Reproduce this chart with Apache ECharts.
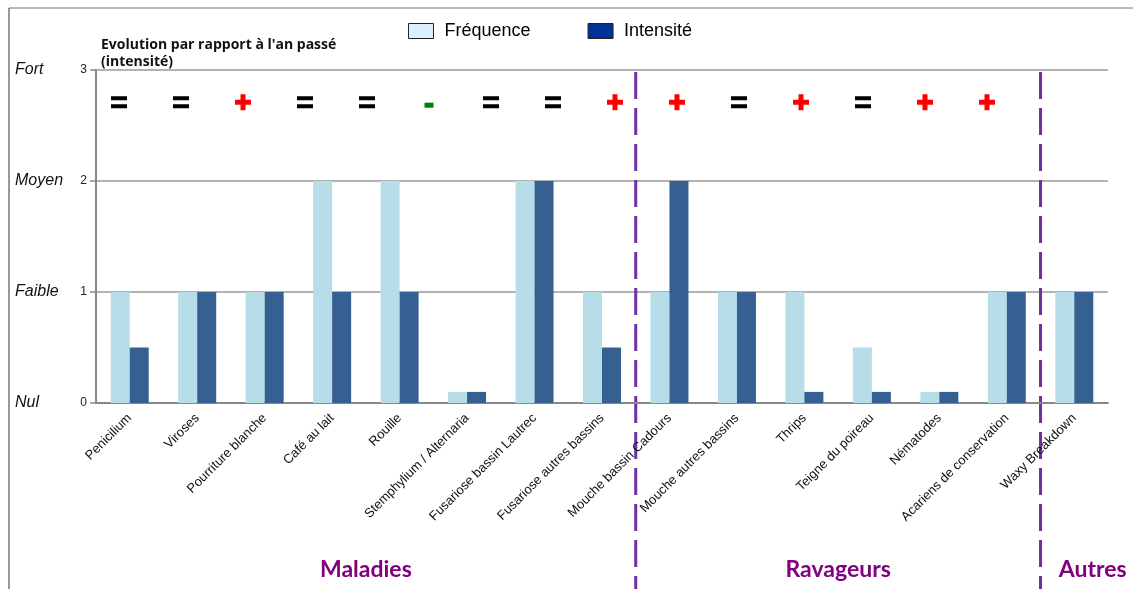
<!DOCTYPE html>
<html>
<head>
<meta charset="utf-8">
<script src="https://cdn.jsdelivr.net/npm/echarts@6/dist/echarts.min.js"></script>
<style>
  html, body { margin: 0; padding: 0; background: #fff; }
  #chart { width: 1133px; height: 589px; }
</style>
</head>
<body>
<div id="chart"></div>
<script>
// Pests and diseases: frequency and intensity levels
const categories = [
  'Penicilium', 'Viroses', 'Pourriture blanche', 'Café au lait', 'Rouille',
  'Stemphylium / Alternaria', 'Fusariose bassin Lautrec', 'Fusariose autres bassins',
  'Mouche bassin Cadours', 'Mouche autres bassins', 'Thrips', 'Teigne du poireau',
  'Nématodes', 'Acariens de conservation', 'Waxy Breakdown'
];
const frequence = [1, 1, 1, 2, 2, 0.1, 2, 1, 1, 1, 1, 0.5, 0.1, 1, 1];
const intensite = [0.5, 1, 1, 1, 1, 0.1, 2, 0.5, 2, 1, 0.1, 0.1, 0.1, 1, 1];
// Change in intensity compared with last year
const evolution = ['=', '=', '+', '=', '=', '-', '=', '=', '+', '+', '=', '+', '=', '+', '+'];
const levelNames = ['Nul', 'Faible', 'Moyen', 'Fort'];
const yTicks = [0, 1, 2, 3];
const groups = [
  { name: 'Maladies', from: 0, to: 7 },
  { name: 'Ravageurs', from: 8, to: 13 },
  { name: 'Autres', from: 14, to: 14 }
];
const evolutionRowLevel = 2.71;

// Glyph shapes for the evolution row
const evolutionMarks = {
  '=': { path: 'path://M0,0H16V4H0Z M0,8H16V12H0Z', size: [16, 12], offset: [0, 0], color: '#000000' },
  '+': { path: 'path://M5.5,0H10.5V5.5H16V10.5H10.5V16H5.5V10.5H0V5.5H5.5Z', size: [16, 16], offset: [0, 0], color: '#ff0000' },
  '-': { path: 'path://M0,0H9V5H0Z', size: [9, 5], offset: [0, 3], color: '#008000' }
};

const chart = echarts.init(document.getElementById('chart'));
const FONT = 'Liberation Sans, Arial, sans-serif';

const option = {
  animation: false,
  backgroundColor: '#ffffff',
  textStyle: { fontFamily: FONT },
  grid: [
    { left: 96, right: 25, top: 70, bottom: 186 },
    { left: 88, right: 115, top: 70, bottom: 186 }
  ],
  legend: {
    left: 403, top: 17,
    icon: 'rect',
    itemWidth: 25, itemHeight: 15, itemGap: 57,
    textStyle: { fontSize: 18, color: '#000', fontFamily: FONT, padding: [0, 0, 0, 6] },
    data: [
      { name: 'Fréquence', itemStyle: { color: '#dcefff', borderColor: '#222', borderWidth: 1 } },
      { name: 'Intensité', itemStyle: { color: '#003399', borderColor: '#222', borderWidth: 1 } }
    ]
  },
  xAxis: [
    {
      type: 'category',
      data: categories,
      axisLine: { lineStyle: { color: '#888', width: 2 } },
      axisTick: { show: false },
      axisLabel: {
        rotate: 45, interval: 0, margin: 13,
        fontSize: 13, color: '#111', fontFamily: FONT
      }
    },
    { type: 'category', gridIndex: 1, data: categories, show: false }
  ],
  yAxis: [
    {
      type: 'value', min: 0, max: 3, interval: 1,
      axisLine: { show: true, lineStyle: { color: '#888', width: 2 } },
      axisTick: { show: true, length: 6, lineStyle: { color: '#888', width: 1.5 } },
      splitLine: { lineStyle: { color: '#999', width: 1.5 } },
      axisLabel: {
        margin: 9, fontSize: 12, color: '#222',
        formatter: v => (yTicks.includes(v) ? String(v) : '')
      }
    },
    {
      type: 'value', min: 0, max: 3, interval: 1, position: 'left',
      axisLine: { show: false }, axisTick: { show: false }, splitLine: { show: false },
      axisLabel: {
        margin: 81, align: 'left', fontSize: 16, fontStyle: 'italic', color: '#111',
        formatter: v => levelNames[v] || ''
      }
    },
    { type: 'value', gridIndex: 1, min: 0, max: 3, interval: 1, show: false }
  ],
  series: [
    {
      name: 'Fréquence', type: 'bar', data: frequence,
      barWidth: 19, barGap: '0%',
      itemStyle: { color: '#b7dde8' }
    },
    {
      name: 'Intensité', type: 'bar', data: intensite,
      barWidth: 19,
      itemStyle: { color: '#366092' }
    },
    {
      name: 'evolution', type: 'scatter', silent: true,
      xAxisIndex: 1, yAxisIndex: 2,
      data: evolution.map((s, i) => {
        const m = evolutionMarks[s];
        return {
          value: [i, evolutionRowLevel],
          symbol: m.path, symbolSize: m.size, symbolOffset: m.offset,
          symbolKeepAspect: false,
          itemStyle: { color: m.color, opacity: 1 }
        };
      })
    }
  ]
};
chart.setOption(option);

// Group separators and group titles placed from the category scale
const px = i => chart.convertToPixel({ xAxisIndex: 0 }, i);
const topY = chart.convertToPixel({ yAxisIndex: 0 }, 3);
const W = chart.getWidth(), H = chart.getHeight();
const graphics = [
  { type: 'line', shape: { x1: 9, y1: 8, x2: W, y2: 8 }, style: { stroke: '#777', lineWidth: 1 } },
  { type: 'line', shape: { x1: 9, y1: 8, x2: 9, y2: H }, style: { stroke: '#333', lineWidth: 1 } },
  {
    type: 'text', left: 101, top: 37,
    style: {
      text: "Evolution par rapport à l'an passé\n(intensité)",
      font: 'bold 14px "Open Sans", sans-serif', fill: '#111', lineHeight: 17
    }
  }
];
for (let g = 0; g < groups.length; g++) {
  const grp = groups[g];
  if (g > 0) {
    const x = (px(grp.from - 1) + px(grp.from)) / 2;
    graphics.push({
      type: 'line', shape: { x1: x, y1: topY + 2, x2: x, y2: H },
      style: { stroke: '#7030a0', lineWidth: 3, lineDash: [27, 9] }
    });
  }
  let cx = (px(grp.from) + px(grp.to)) / 2;
  if (g === groups.length - 1) {
    const left = (px(grp.from - 1) + px(grp.from)) / 2;
    cx = (left + W) / 2 + 6;
  }
  graphics.push({
    type: 'text', x: cx, y: 570,
    style: {
      text: grp.name, font: 'bold 23px Lato, sans-serif', fill: '#800080',
      textAlign: 'center', textVerticalAlign: 'middle'
    }
  });
}
chart.setOption({ graphic: graphics });
</script>
</body>
</html>
